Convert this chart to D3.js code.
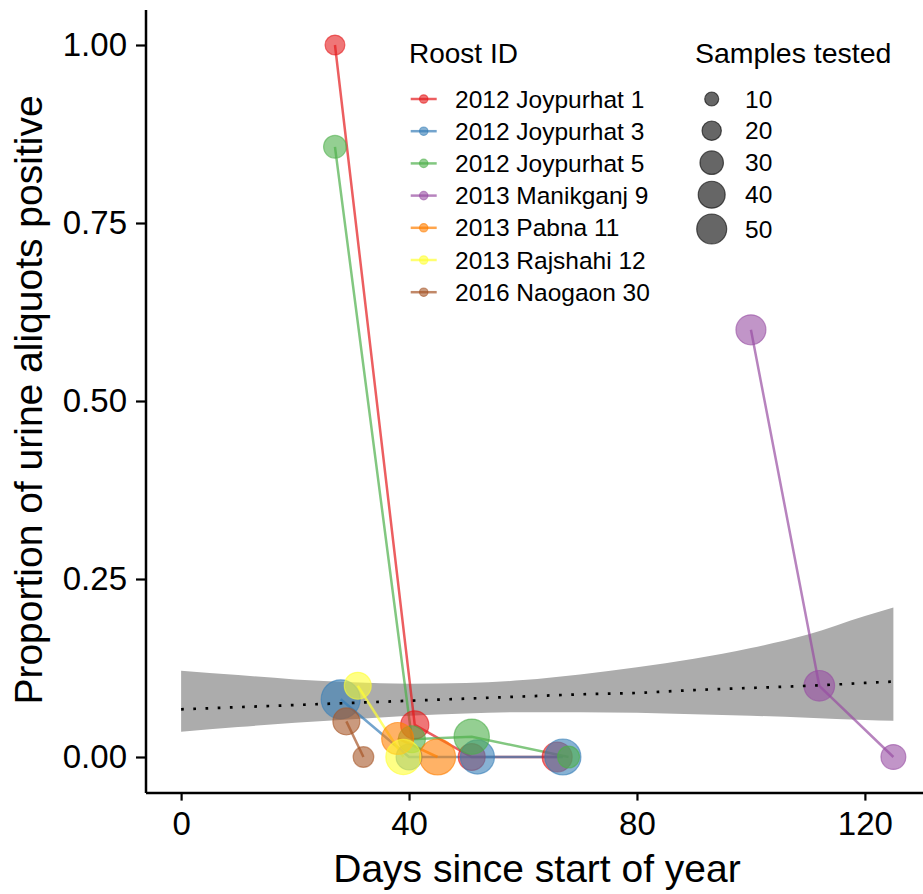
<!DOCTYPE html>
<html>
<head>
<meta charset="utf-8">
<script src="https://cdn.jsdelivr.net/npm/d3@7"></script>
<style>
  body { margin: 0; background: #fff; }
  svg { font-family: "Liberation Sans", Arial, Helvetica, sans-serif; }
</style>
</head>
<body>
<svg id="chart" width="923" height="894"></svg>
<script>
// roost series: day of year, proportion positive, samples tested
var roosts = ["2012 Joypurhat 1", "2012 Joypurhat 3", "2012 Joypurhat 5", "2013 Manikganj 9",
  "2013 Pabna 11", "2013 Rajshahi 12", "2016 Naogaon 30"];
var roostColors = ["#E41A1C", "#377EB8", "#4DAF4A", "#984EA3", "#FF7F00", "#FFFF33", "#A65628"];

var days = [
  [27, 41, 51, 66],
  [28, 40, 52, 67],
  [27, 40.5, 51, 68],
  [100, 112, 125],
  [38, 45],
  [31, 39],
  [29, 32]
];
var propPos = [
  [1.00, 0.045, 0, 0],
  [0.081, 0, 0, 0],
  [0.857, 0.025, 0.0285, 0],
  [0.60, 0.10, 0],
  [0.026, 0],
  [0.10, 0],
  [0.05, 0]
];
var nTested = [
  [21, 44, 40, 50],
  [86, 37, 65, 73],
  [28, 40, 70, 26],
  [50, 52, 34],
  [57, 73],
  [40, 69],
  [40, 23]
];

// binomial fit and confidence band
var fitDays = [0, 10, 20, 30, 40, 50, 60, 70, 80, 90, 100, 110, 120, 125];
var fitMid = [0.067, 0.070, 0.073, 0.076, 0.079, 0.082, 0.085, 0.088, 0.090, 0.094, 0.097, 0.100, 0.104, 0.106];
var fitLow = [0.0355, 0.042, 0.048, 0.053, 0.058, 0.061, 0.063, 0.063, 0.062, 0.060, 0.058, 0.055, 0.052, 0.051];
var fitHigh = [0.121, 0.115, 0.109, 0.105, 0.103, 0.104, 0.108, 0.116, 0.126, 0.138, 0.153, 0.172, 0.198, 0.210];

var sizeBreaks = [10, 20, 30, 40, 50];
var xTicks = [0, 40, 80, 120];
var yTicks = [0, 0.25, 0.5, 0.75, 1];

var svg = d3.select("#chart");

var x = d3.scaleLinear().domain([-6.25, 131.25]).range([145.5, 929]);
var y = d3.scaleLinear().domain([-0.05, 1.05]).range([792.6, 9.4]);
var r = d3.scalePow().exponent(0.5).domain([10, 50]).range([7, 15]);

// band
var area = d3.area()
  .x(function (d, i) { return x(fitDays[i]); })
  .y0(function (d, i) { return y(fitLow[i]); })
  .y1(function (d, i) { return y(fitHigh[i]); })
  .curve(d3.curveMonotoneX);
svg.append("path")
  .datum(fitDays)
  .attr("fill", "#acacac")
  .attr("d", area);

// roost lines
var line = d3.line()
  .x(function (d) { return x(d[0]); })
  .y(function (d) { return y(d[1]); });

roosts.forEach(function (name, k) {
  var pts = days[k].map(function (d, i) { return [d, propPos[k][i]]; });
  svg.append("path")
    .datum(pts)
    .attr("fill", "none")
    .attr("stroke", roostColors[k])
    .attr("stroke-opacity", 0.7)
    .attr("stroke-width", 2.5)
    .attr("d", line);
});

// roost points
roosts.forEach(function (name, k) {
  var pts = days[k].map(function (d, i) { return { d: d, p: propPos[k][i], n: nTested[k][i] }; });
  svg.append("g").selectAll("circle")
    .data(pts)
    .enter().append("circle")
    .attr("cx", function (d) { return x(d.d); })
    .attr("cy", function (d) { return y(d.p); })
    .attr("r", function (d) { return r(d.n); })
    .attr("fill", roostColors[k])
    .attr("fill-opacity", 0.6)
    .attr("stroke", roostColors[k])
    .attr("stroke-opacity", 0.6)
    .attr("stroke-width", 1.2);
});

// fitted line
var fitLine = d3.line()
  .x(function (d, i) { return x(fitDays[i]); })
  .y(function (d, i) { return y(fitMid[i]); })
  .curve(d3.curveMonotoneX);
svg.append("path")
  .datum(fitDays)
  .attr("fill", "none")
  .attr("stroke", "#000")
  .attr("stroke-width", 2.7)
  .attr("stroke-dasharray", "2.7,9.5")
  .attr("d", fitLine);

// axes
var xAxis = svg.append("g")
  .attr("transform", "translate(0," + y.range()[0] + ")")
  .call(d3.axisBottom(x).tickValues(xTicks).tickSize(8).tickSizeOuter(0).tickPadding(10.5));
var yAxis = svg.append("g")
  .attr("transform", "translate(" + x.range()[0] + ",0)")
  .call(d3.axisLeft(y).tickValues(yTicks).tickFormat(d3.format(".2f")).tickSize(9.5).tickSizeOuter(0).tickPadding(9));

[xAxis, yAxis].forEach(function (g) {
  g.select(".domain").attr("stroke", "#000").attr("stroke-width", 2.5);
  g.selectAll(".tick line").attr("stroke", "#000").attr("stroke-width", 2.2);
  g.selectAll(".tick text").attr("fill", "#000").style("font-size", "33px").style("font-family", "Liberation Sans, Arial, sans-serif");
});

svg.append("text")
  .attr("x", (x(0) + x(120)) / 2 + 14)
  .attr("y", 882)
  .attr("text-anchor", "middle")
  .style("font-size", "39px")
  .text("Days since start of year");

svg.append("text")
  .attr("transform", "translate(42," + (y(0.5) - 1) + ") rotate(-90)")
  .attr("text-anchor", "middle")
  .style("font-size", "39px")
  .text("Proportion of urine aliquots positive");

// legend: roost
var leg = svg.append("g");
leg.append("text").attr("x", 409).attr("y", 63).style("font-size", "28px").text("Roost ID");
var rowY = function (i) { return 99 + i * 32.2; };
roosts.forEach(function (name, k) {
  leg.append("line")
    .attr("x1", 410.7).attr("x2", 436.7)
    .attr("y1", rowY(k)).attr("y2", rowY(k))
    .attr("stroke", roostColors[k]).attr("stroke-opacity", 0.7).attr("stroke-width", 2.5);
  leg.append("circle")
    .attr("cx", 423.7).attr("cy", rowY(k)).attr("r", 4.2)
    .attr("fill", roostColors[k]).attr("fill-opacity", 0.6)
    .attr("stroke", roostColors[k]).attr("stroke-opacity", 0.6).attr("stroke-width", 1.2);
  leg.append("text")
    .attr("x", 455).attr("y", rowY(k)).attr("dy", "0.35em")
    .style("font-size", "24.5px").text(name);
});

// legend: size
var leg2 = svg.append("g");
leg2.append("text").attr("x", 695).attr("y", 63).style("font-size", "28.5px").text("Samples tested");
var sizeY = [99, 130.7, 162.7, 194.7, 229];
sizeBreaks.forEach(function (n, i) {
  leg2.append("circle")
    .attr("cx", 711.7).attr("cy", sizeY[i]).attr("r", r(n))
    .attr("fill", "#000").attr("fill-opacity", 0.6)
    .attr("stroke", "#000").attr("stroke-opacity", 0.6).attr("stroke-width", 1.2);
  leg2.append("text")
    .attr("x", 745).attr("y", sizeY[i]).attr("dy", "0.35em")
    .style("font-size", "24.5px").text(n);
});
</script>
</body>
</html>
